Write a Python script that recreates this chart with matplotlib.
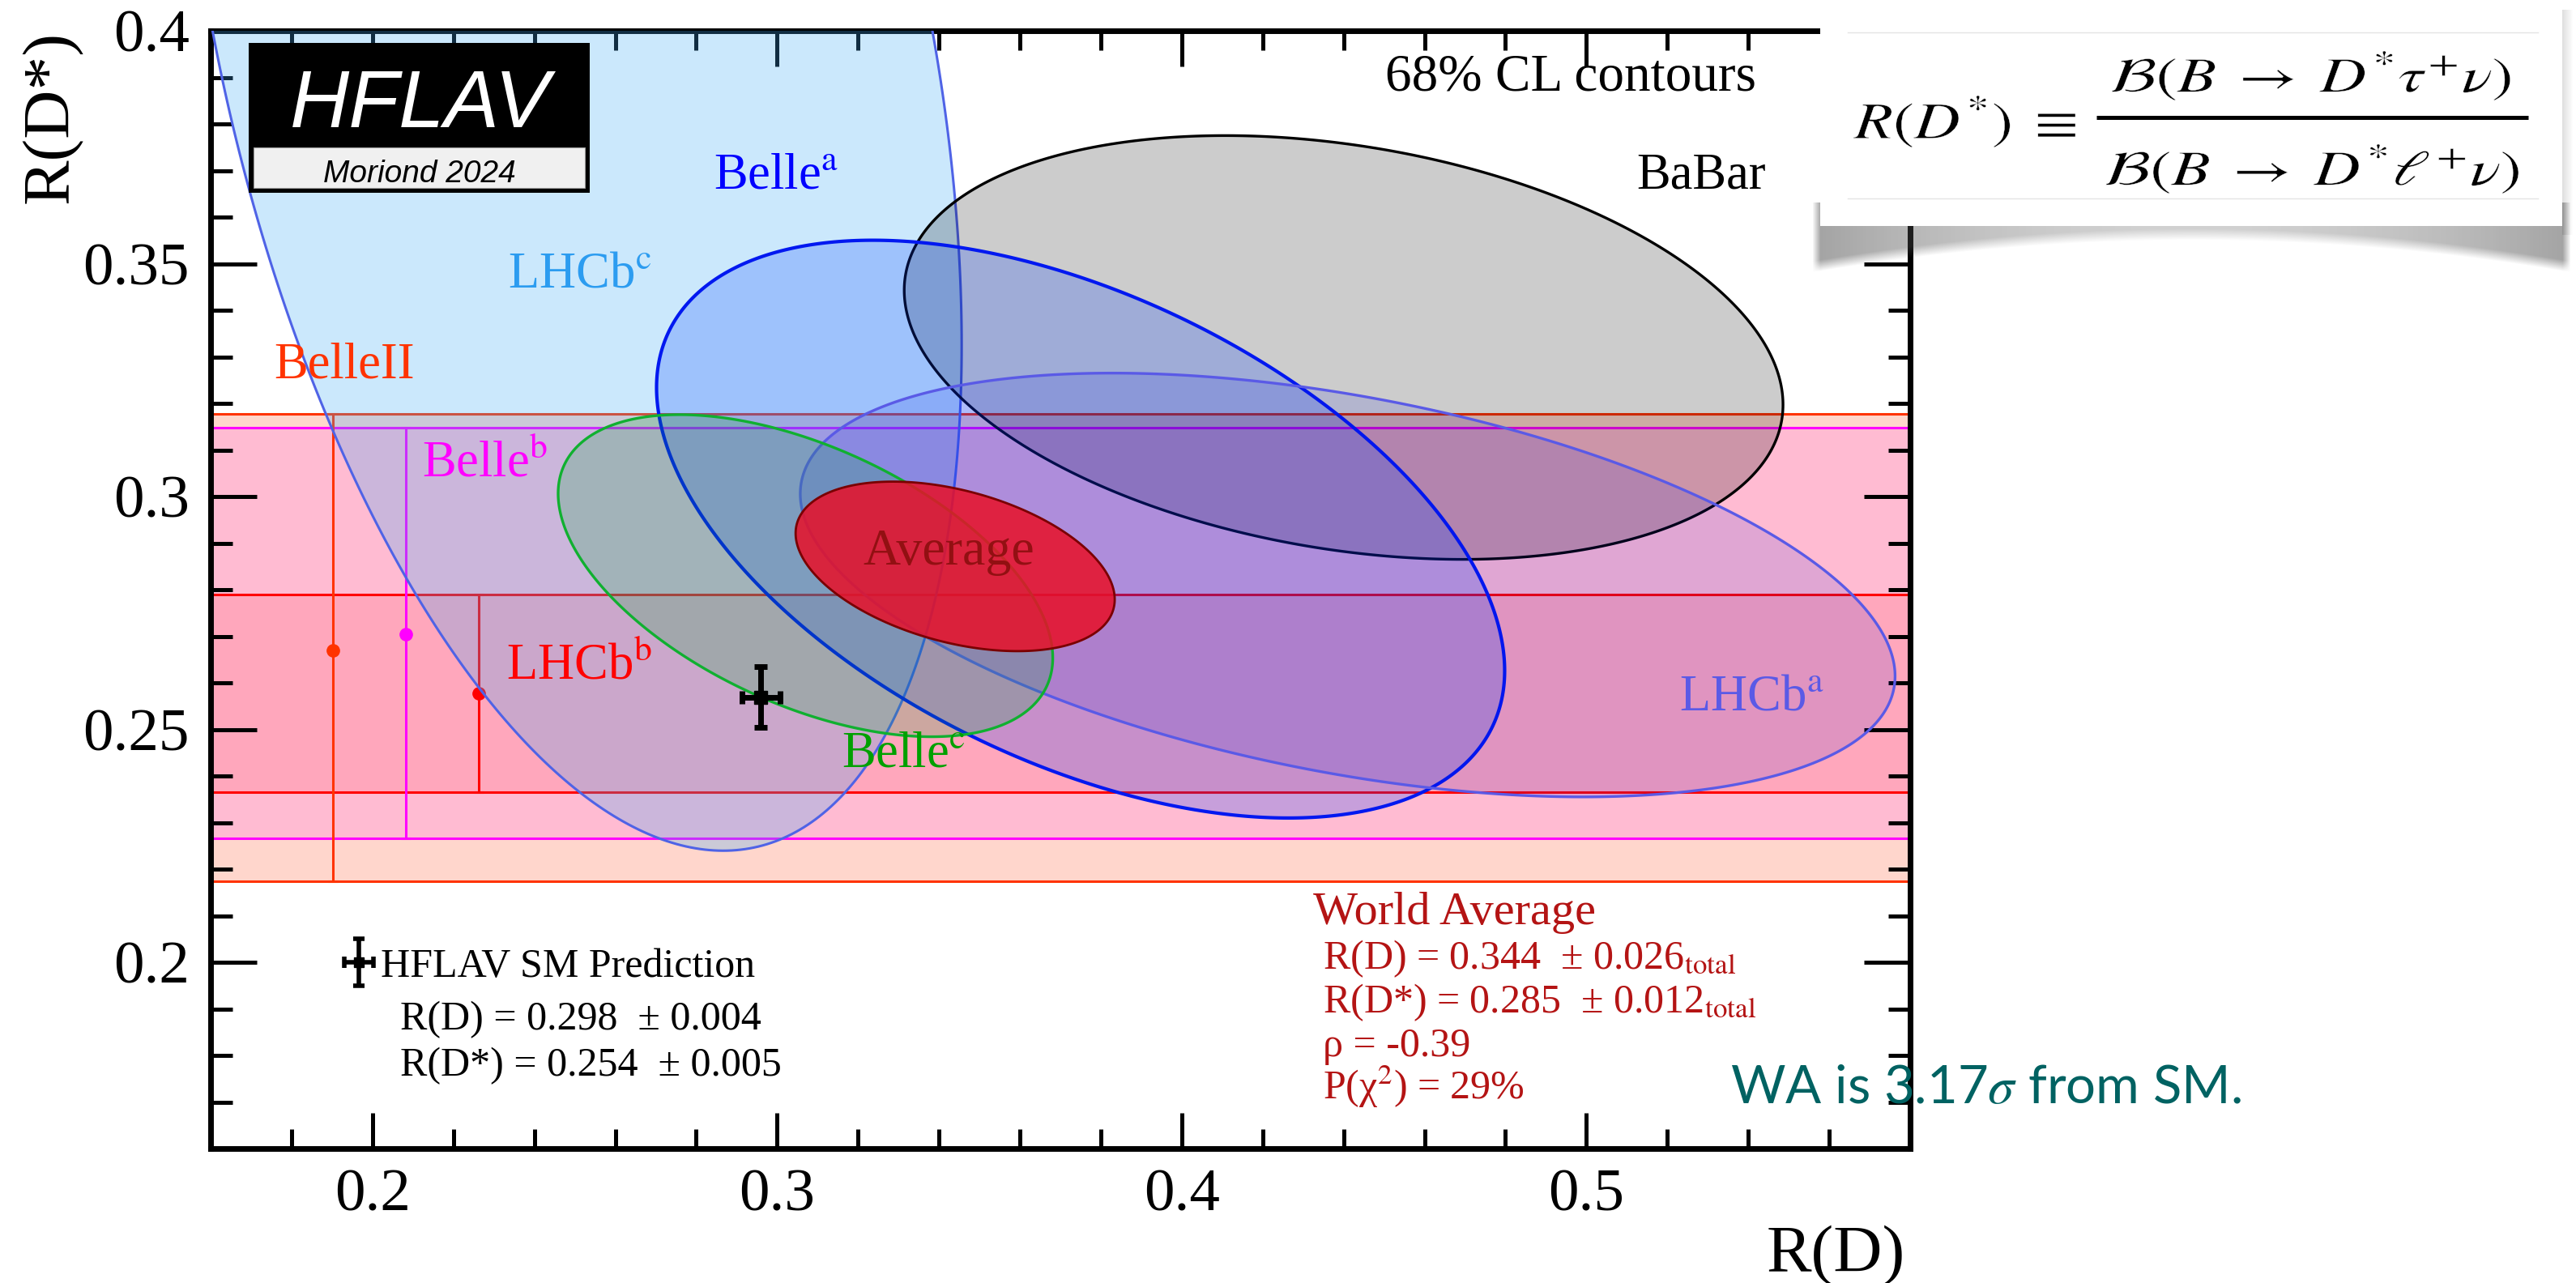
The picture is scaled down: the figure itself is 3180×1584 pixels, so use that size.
import numpy as np
import matplotlib
matplotlib.use("Agg")
import matplotlib.pyplot as plt
from matplotlib.patches import Rectangle, PathPatch
from matplotlib.ticker import MultipleLocator, FuncFormatter
from matplotlib.textpath import TextPath
from matplotlib.font_manager import FontProperties
from matplotlib.transforms import Affine2D

plt.rcParams['font.family'] = ['Liberation Serif', 'DejaVu Serif']
plt.rcParams['mathtext.fontset'] = 'stix'

# ---------------- data ----------------
# 2D measurements (R(D), R(D*)) drawn as 68% CL contours
ell_names = ['LHCb$^{\\rm c}$', 'BaBar', 'Belle$^{\\rm a}$', 'LHCb$^{\\rm a}$', 'Belle$^{\\rm c}$', 'Average']
ell_rd = [0.249, 0.440, 0.375, 0.441, 0.307, 0.344]
ell_rd_err = [0.0637, 0.0716, 0.0691, 0.0892, 0.0403, 0.026]
ell_rds = [0.402, 0.332, 0.293, 0.281, 0.283, 0.285]
ell_rds_err = [0.1174, 0.030, 0.0409, 0.030, 0.0228, 0.012]
ell_rho = [-0.39, -0.27, -0.49, -0.43, -0.51, -0.39]

# R(D*)-only measurements drawn as bands
band_names = ['BelleII', 'Belle$^{\\rm b}$', 'LHCb$^{\\rm b}$']
band_rds = [0.267, 0.2705, 0.2577]
band_lo = [0.2174, 0.2266, 0.2365]
band_hi = [0.3178, 0.3148, 0.2790]
band_x = [0.1902, 0.2082, 0.2262]

# SM prediction
sm_rd, sm_rd_err = 0.298, 0.004
sm_rds, sm_rds_err = 0.254, 0.005
sm_mark_x, sm_mark_y = 0.296, 0.2569
sm_mark_xerr, sm_mark_yerr = 0.0047, 0.0065

wa_p_chi2 = 29
wa_sigma = 3.17

# ---------------- styles ----------------
ell_face = [(0.255, 0.667, 0.961, 0.27), (0, 0, 0, 0.20), (0.0, 0.235, 1.0, 0.22),
            (0.0, 0.06, 0.88, 0.12), (0.0, 0.667, 0.196, 0.20), (0.91, 0.063, 0.157, 0.86)]
ell_edge = ['#4f63e6', '#000000', '#0018f0', '#5a5ae6', '#10b030', '#7a0000']
ell_lw = [2.2, 2.4, 3.0, 2.4, 2.4, 2.0]
band_face = [(1.0, 0.2, 0.0, 0.2), (1.0, 0.0, 1.0, 0.12), (1.0, 0.0, 0.0, 0.10)]
band_col = ['#ff3300', '#ff00ff', '#ff0000']

W, H = 3180, 1584
fig = plt.figure(figsize=(W / 100, H / 100), dpi=100)
AX_L, AX_R, AX_T, AX_B = 260, 2358, 38, 1418
ax = fig.add_axes([AX_L / W, 1 - AX_B / H, (AX_R - AX_L) / W, (AX_B - AX_T) / H])
ax.set_xlim(0.16, 0.58)
ax.set_ylim(0.16, 0.40)

# bands
for i in range(len(band_names)):
    ax.axhspan(band_lo[i], band_hi[i], facecolor=band_face[i], edgecolor='none', zorder=1)
    ax.axhline(band_lo[i], color=band_col[i], lw=2.2, zorder=1.5)
    ax.axhline(band_hi[i], color=band_col[i], lw=2.2, zorder=1.5)
    ax.errorbar([band_x[i]], [band_rds[i]],
                yerr=[[band_rds[i] - band_lo[i]], [band_hi[i] - band_rds[i]]],
                fmt='o', color=band_col[i], ms=11, elinewidth=2.2, capsize=4, capthick=2.2, zorder=2)

# ellipses (Delta chi2 = 2.30)
k = np.sqrt(2.30)
t = np.linspace(0, 2 * np.pi, 500)
for i in range(len(ell_names)):
    sx, sy, r = ell_rd_err[i], ell_rds_err[i], ell_rho[i]
    cov = np.array([[sx * sx, r * sx * sy], [r * sx * sy, sy * sy]])
    L = np.linalg.cholesky(cov)
    pts = k * L @ np.vstack([np.cos(t), np.sin(t)])
    ax.fill(ell_rd[i] + pts[0], ell_rds[i] + pts[1], facecolor=ell_face[i],
            edgecolor=ell_edge[i], lw=ell_lw[i], zorder=3 + i)

# SM point
ax.errorbar([sm_mark_x], [sm_mark_y], xerr=[sm_mark_xerr], yerr=[sm_mark_yerr], fmt='s', color='k',
            ms=12, elinewidth=5, capsize=6, capthick=5, zorder=12)

# labels
lab_font = 45
ax.text(0.4502, 0.3873, '68% CL contours', fontsize=47, color='k', zorder=13)
ax.text(0.5124, 0.3661, 'BaBar', fontsize=lab_font, color='k', zorder=13)
ax.text(0.2843, 0.3661, ell_names[2], fontsize=lab_font, color='#0000ff', zorder=13)
ax.text(0.2335, 0.3450, ell_names[0], fontsize=lab_font, color='#2c9cf0', zorder=13)
ax.text(0.1756, 0.3255, band_names[0], fontsize=lab_font, color='#ff3300', zorder=13)
ax.text(0.2122, 0.3042, band_names[1], fontsize=lab_font, color='#ff00ff', zorder=13)
ax.text(0.2330, 0.2608, band_names[2], fontsize=lab_font, color='#ff0000', zorder=13)
ax.text(0.3160, 0.2420, ell_names[4], fontsize=lab_font, color='#00a000', zorder=13)
ax.text(0.5230, 0.2542, ell_names[3], fontsize=lab_font, color='#5a5ae6', zorder=13)
ax.text(0.3212, 0.2854, ell_names[5], fontsize=46, color='#8b0e0e', alpha=0.9, zorder=13)

# SM legend
ax.errorbar([0.1966], [0.2], xerr=[0.0036], yerr=[0.005], fmt='s', color='k', ms=8,
            elinewidth=4, capsize=5, capthick=4, zorder=12, clip_on=False)
sm_font = 36
ax.text(0.2020, 0.1969, 'HFLAV SM Prediction', fontsize=sm_font, color='k')
ax.text(0.2068, 0.1856, f'R(D) = {sm_rd:.3f}  \u00b1 {sm_rd_err:.3f}', fontsize=sm_font, color='k')
ax.text(0.2068, 0.1757, f'R(D*) = {sm_rds:.3f}  \u00b1 {sm_rds_err:.3f}', fontsize=sm_font, color='k')

# World average text
wa_col = '#b41414'
ax.text(0.4324, 0.2082, 'World Average', fontsize=42, color=wa_col)
wa_lines = [f'R(D) = {ell_rd[5]:.3f}  \u00b1 {ell_rd_err[5]:.3f}$_{{\\rm total}}$',
            f'R(D*) = {ell_rds[5]:.3f}  \u00b1 {ell_rds_err[5]:.3f}$_{{\\rm total}}$',
            f'\u03c1 = {ell_rho[5]:.2f}',
            f'P(\u03c7$^{{2}}$) = {wa_p_chi2}%']
for j, s in enumerate(wa_lines):
    ax.text(0.4348, 0.1986 - j * 0.00935, s, fontsize=36, color=wa_col)

# axes style
for sp in ax.spines.values():
    sp.set_linewidth(5)
ax.xaxis.set_major_locator(MultipleLocator(0.1))
ax.xaxis.set_minor_locator(MultipleLocator(0.02))
ax.yaxis.set_major_locator(MultipleLocator(0.05))
ax.yaxis.set_minor_locator(MultipleLocator(0.01))
fmt = FuncFormatter(lambda v, p: f'{v:g}')
ax.xaxis.set_major_formatter(fmt)
ax.yaxis.set_major_formatter(fmt)
ax.tick_params(axis='both', which='both', direction='in', top=True, right=True, width=3.6, labelsize=54)
ax.tick_params(axis='x', which='major', length=32, pad=18)
ax.tick_params(axis='x', which='minor', length=17)
ax.tick_params(axis='y', which='major', length=41, pad=19)
ax.tick_params(axis='y', which='minor', length=19.5)

fig.text(2352 / W, 1 - 1570 / H, 'R(D)', fontsize=60, ha='right', va='baseline')
fig.text(64 / W, 1 - 38 / H, 'R(D*)', fontsize=60, ha='center', va='top', rotation=90)

# ---------------- overlay (logo, formula box, note) ----------------
ov = fig.add_axes([0, 0, 1, 1], zorder=10)
ov.patch.set_alpha(0)
ov.axis('off')

# HFLAV logo
ov.add_patch(Rectangle((307, 53), 421, 185, facecolor='black', edgecolor='none'))
ov.add_patch(Rectangle((313, 182), 409, 50, facecolor='#f0f0f0', edgecolor='#999999', lw=0.8))
ov.text(518, 157, 'HFLAV', family='Liberation Sans', style='italic', fontsize=73,
        color='white', ha='center', va='baseline')
ov.text(518, 225, 'Moriond 2024', family='Liberation Sans', style='italic', fontsize=28,
        color='black', ha='center', va='baseline')

# formula box shadow
xs = np.arange(2235, 3180)
ys = np.arange(250, 350)
X, Y = np.meshgrid(xs, ys)
u = (X - 2705) / 468.0
bot = 296 + 40 * u ** 2
a = np.clip((bot - Y) / 14.0, 0, 1)
edge = np.clip((1 - np.abs(u)) * 468 / 10.0, 0, 1)
alpha = (0.26 + 0.26 * u ** 2) * a * edge
rgba = np.zeros(X.shape + (4,))
rgba[..., :3] = 0.3
rgba[..., 3] = alpha
ov.imshow(rgba, extent=(2235, 3180, 350, 250), aspect='auto', interpolation='bilinear', zorder=1)
side = np.zeros((2, 14, 4))
side[..., :3] = 0.3
side[..., 3] = np.linspace(0.18, 0.0, 14)[None, :]
ov.imshow(side, extent=(3163, 3177, 290, 12), aspect='auto', interpolation='bilinear', zorder=1)
ov.add_patch(Rectangle((2247, 7), 916, 272, facecolor='white', edgecolor='none', zorder=2))
ov.plot([2281, 3133], [40, 40], color='#e4e4e4', lw=1, zorder=3)
ov.plot([2281, 3133], [245, 245], color='#e4e4e4', lw=1, zorder=3)


def fit_text(s, box, max_stretch=1.3):
    fp = FontProperties(family='STIXGeneral')
    tp = TextPath((0, 0), s, size=100, prop=fp)
    v = tp.vertices
    ex0, ey0 = v[:, 0].min(), v[:, 1].min()
    ew, eh = v[:, 0].max() - ex0, v[:, 1].max() - ey0
    x0, y0, x1, y1 = box
    sy = (y1 - y0) / eh
    sx = min((x1 - x0) / ew, sy * max_stretch)
    xoff = x0 + ((x1 - x0) - ew * sx) / 2.0
    tr = Affine2D().translate(-ex0, -ey0).scale(sx, -sy).translate(xoff, y1)
    ov.add_patch(PathPatch(tr.transform_path(tp), facecolor='black', edgecolor='white',
                           lw=0.35, zorder=4))


fit_text(r'$R(D^{*})\;\equiv$', (2288, 118, 2562, 182))
fit_text(r'$\mathcal{B}(B\;\rightarrow\;D^{*}\tau^{+}\nu)$', (2597, 63, 3106, 124))
fit_text(r'$\mathcal{B}(B\;\rightarrow\;D^{*}\ell^{+}\nu)$', (2597, 178, 3109, 239))
ov.plot([2588, 3121], [144.5, 144.5], color='black', lw=3.6, zorder=4, solid_capstyle='butt')

ov.text(2136, 1362, f'WA is {wa_sigma:.2f}$\\sigma$ from SM.', family='Lato', fontsize=47,
        color='#006262', ha='left', va='baseline')

ov.set_xlim(0, W)
ov.set_ylim(H, 0)

fig.savefig('out.png', dpi=100, facecolor='white')
